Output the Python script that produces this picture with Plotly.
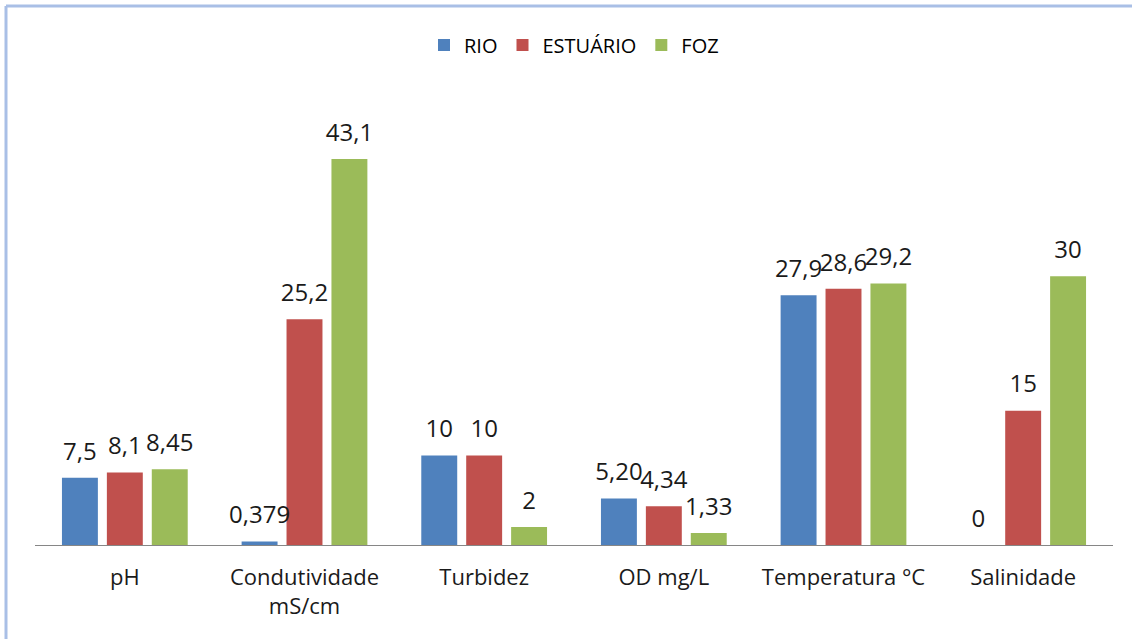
import plotly.graph_objects as go

categories = ["pH", "Condutividade<br>mS/cm", "Turbidez", "OD mg/L", "Temperatura °C", "Salinidade"]
rio = [7.5, 0.379, 10, 5.20, 27.9, 0]
estuario = [8.1, 25.2, 10, 4.34, 28.6, 15]
foz = [8.45, 43.1, 2, 1.33, 29.2, 30]
rio_labels = ["7,5", "0,379", "10", "5,20", "27,9", "0"]
estuario_labels = ["8,1", "25,2", "10", "4,34", "28,6", "15"]
foz_labels = ["8,45", "43,1", "2", "1,33", "29,2", "30"]

series = [
    ("RIO", rio, rio_labels, "#4f81bd"),
    ("ESTUÁRIO", estuario, estuario_labels, "#c0504d"),
    ("FOZ", foz, foz_labels, "#9bbb59"),
]

FONT = "Open Sans"
TXT = "#1a1a1a"
fig = go.Figure()
for i, (name, vals, labels, color) in enumerate(series):
    fig.add_trace(go.Bar(
        name=name, x=categories, y=vals, offsetgroup=str(i),
        marker=dict(color=color, line=dict(width=0)),
    ))
for i, (name, vals, labels, color) in enumerate(series):
    fig.add_trace(go.Scatter(
        x=categories, y=vals, text=labels, mode="text+markers",
        offsetgroup=str(i), showlegend=False, hoverinfo="skip",
        marker=dict(size=18, opacity=0), cliponaxis=False,
        textposition="top center",
        textfont=dict(family=FONT, size=24, color=TXT),
    ))

W, H = 1132, 639
L, R, T, B = 35, 19, 142, 94
pw, ph = W - L - R, H - T - B

def px_x(p):
    return (p - L) / pw

def px_y(p):
    return (H - B - p) / ph

fig.update_layout(
    width=W, height=H,
    margin=dict(l=L, r=R, t=T, b=B, autoexpand=False),
    paper_bgcolor="white", plot_bgcolor="white",
    barmode="group", bargap=0.25, bargroupgap=0.2,
    scattermode="group", scattergap=0.25,
    font=dict(family=FONT, color=TXT),
    legend=dict(orientation="h", x=0.5, xanchor="center",
                yref="container", y=1 - 45 / H, yanchor="middle",
                font=dict(family=FONT, size=20, color="#000000"),
                itemwidth=30, traceorder="normal"),
    xaxis=dict(showline=True, linecolor="#868686", linewidth=1,
               ticks="", showgrid=False, tickfont=dict(family=FONT, size=22, color=TXT),
               ticklabelstandoff=13),
    yaxis=dict(range=[0, 45], visible=False, showgrid=False),
    shapes=[
        dict(type="line", xref="paper", yref="paper", x0=px_x(6), x1=px_x(1140),
             y0=px_y(6), y1=px_y(6), line=dict(color="#a9bfe6", width=3)),
        dict(type="line", xref="paper", yref="paper", x0=px_x(6), x1=px_x(6),
             y0=px_y(6), y1=px_y(650), line=dict(color="#a9bfe6", width=3)),
    ],
)

fig.write_html("out.html")
